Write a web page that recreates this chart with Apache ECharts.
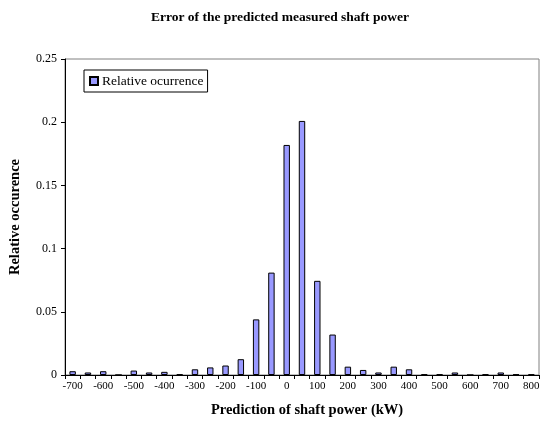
<!DOCTYPE html>
<html><head><meta charset="utf-8">
<script src="https://cdn.jsdelivr.net/npm/echarts@6/dist/echarts.min.js"></script>
<style>html,body{margin:0;padding:0;background:#fff}#c{width:541px;height:423px}</style>
</head><body><div id="c"></div>
<script>
const categories = ['-700','-650','-600','-550','-500','-450','-400','-350','-300','-250','-200','-150','-100','-50','0','50','100','150','200','250','300','350','400','450','500','550','600','650','700','750','800'];
const relativeOccurrence = [0.003,0.002,0.003,0,0.0035,0.002,0.0025,0.0005,0.0045,0.006,0.0075,0.0125,0.044,0.081,0.182,0.201,0.0745,0.032,0.0066,0.004,0.002,0.0066,0.0045,0.0005,0.0005,0.002,0,0.0005,0.002,0.0005,0.0005];
const yTicks = {min:0, max:0.25, interval:0.05};
const serif = '"Liberation Serif", "Times New Roman", serif';
const chart = echarts.init(document.getElementById('c'), null, {renderer:'canvas'});
chart.setOption({
  animation:false,
  backgroundColor:'#fff',
  title:{text:'Error of the predicted measured shaft power', left:151, top:11, padding:0,
    textStyle:{fontFamily:serif, fontSize:13.5, fontWeight:'bold', color:'#000'}},
  legend:{left:84, top:70, orient:'vertical', borderColor:'#000', borderWidth:1, padding:[4,4,4,5],
    itemWidth:8, itemHeight:8, itemGap:4,
    textStyle:{fontFamily:serif, fontSize:13.5, color:'#000', padding:[0,0,0,-1]},
    data:[{name:'Relative ocurrence', icon:'rect'}]},
  grid:{left:65, right:2, top:59, bottom:48, show:true, borderColor:'#808080', borderWidth:1,
    containLabel:false, outerBoundsMode:'none'},
  xAxis:{type:'category', data:categories,
    name:'Prediction of shaft power (kW)', nameLocation:'middle', nameGap:28, nameMoveOverlap:false,
    nameTextStyle:{fontFamily:serif, fontSize:14.5, fontWeight:'bold', color:'#000', padding:[0,0,0,10]},
    axisLine:{lineStyle:{color:'#000', width:1}},
    axisTick:{show:true, interval:0, length:4, lineStyle:{color:'#000'}},
    axisLabel:{interval:1, fontFamily:serif, fontSize:11, color:'#000', margin:6}},
  yAxis:{type:'value', min:yTicks.min, max:yTicks.max, interval:yTicks.interval,
    name:'Relative occurence', nameLocation:'middle', nameGap:42, nameMoveOverlap:false,
    nameTextStyle:{fontFamily:serif, fontSize:14.5, fontWeight:'bold', color:'#000'},
    axisLine:{show:true, lineStyle:{color:'#000', width:1}},
    axisTick:{show:true, length:4, lineStyle:{color:'#000'}},
    splitLine:{show:false},
    axisLabel:{fontFamily:serif, fontSize:12, color:'#000', margin:8}},
  series:[{name:'Relative ocurrence', type:'bar', data:relativeOccurrence, barWidth:'42%',
    itemStyle:{color:'#9999FF', borderColor:'#000', borderWidth:1}}]
});
</script></body></html>
